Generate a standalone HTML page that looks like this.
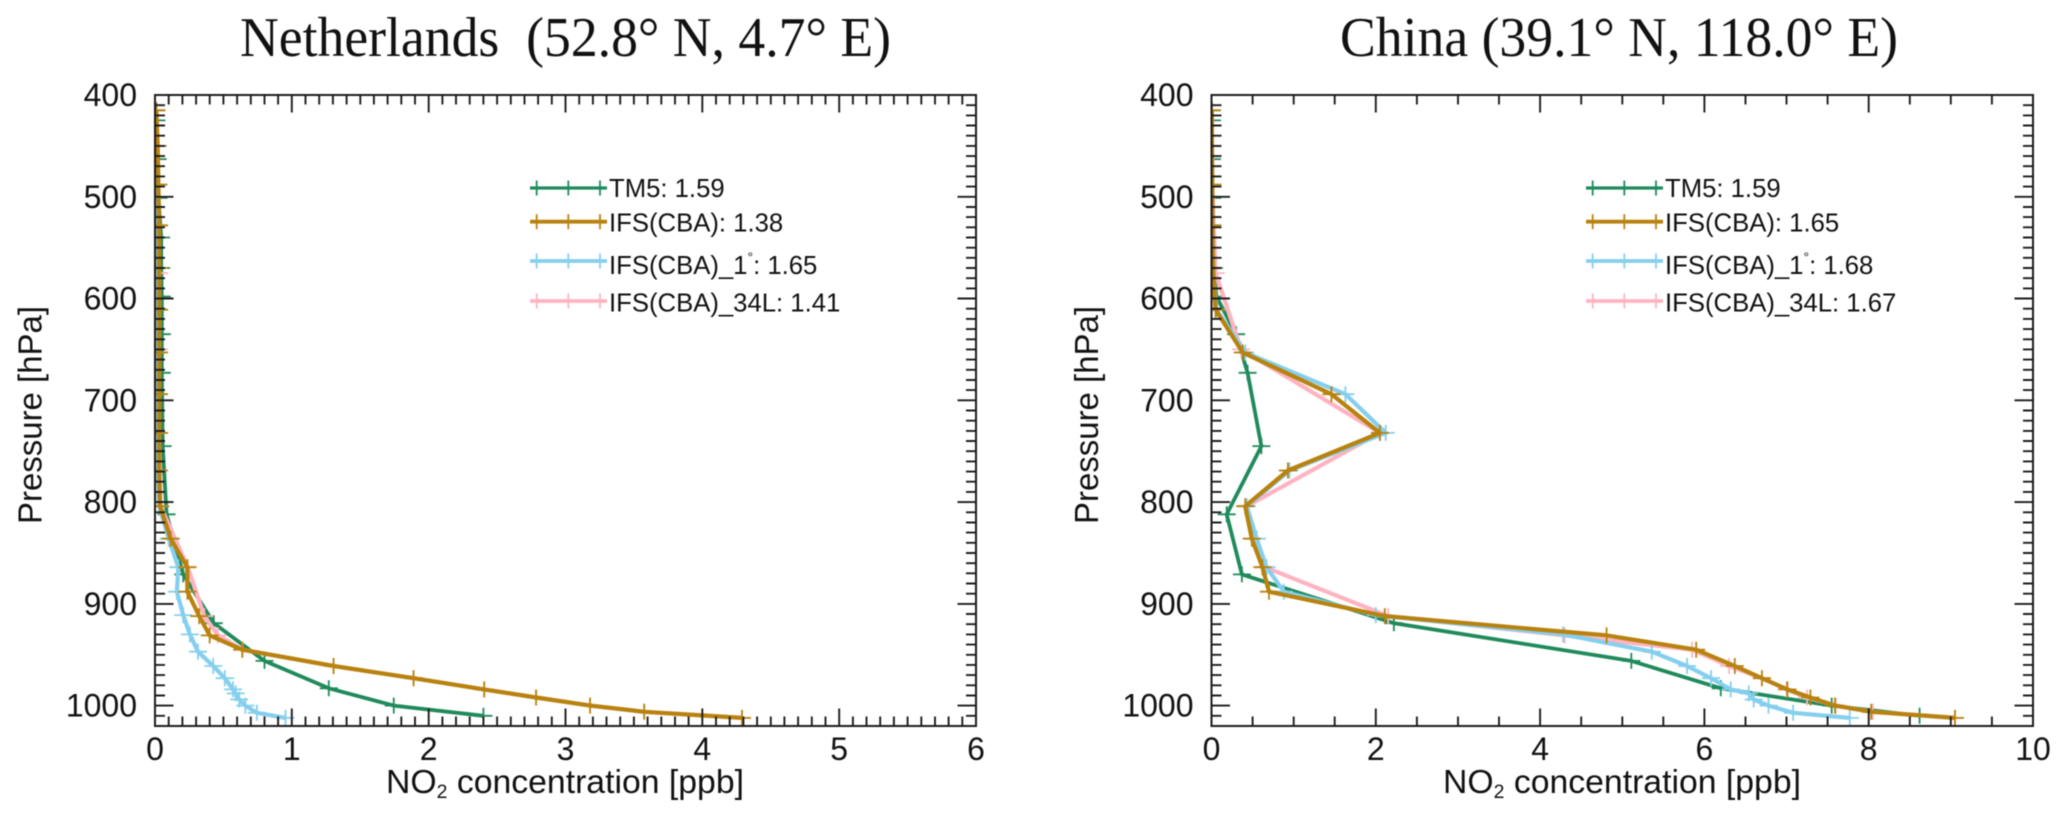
<!DOCTYPE html>
<html>
<head>
<meta charset="utf-8">
<title>NO2 profiles</title>
<style>
html,body{margin:0;padding:0;background:#fff;}
svg{display:block;filter:blur(0.4px);}
text{font-family:"Liberation Sans",sans-serif;fill:#111;white-space:pre;}
.title{font-family:"Liberation Serif",serif;font-size:56px;fill:#111;}
</style>
</head>
<body>
<svg id="figure" xmlns="http://www.w3.org/2000/svg" width="2067" height="820" viewBox="0 0 2067 820"></svg>
<script>
// ---------- shared data ----------
const pressureTicks = [400, 500, 600, 700, 800, 900, 1000];
const seriesNames = ['TM5', 'IFS(CBA)', 'IFS(CBA)_1', 'IFS(CBA)_34L'];

// pressure levels [hPa]
const tm5Levels = [425, 463, 501, 540, 570, 598, 635, 673, 745, 812, 871, 919, 956, 983, 1000, 1010];
const ifsLevels = [415, 450, 488, 528, 570, 611, 653, 694, 732, 769, 804, 836, 864, 888, 912, 931, 945, 961, 973, 984, 992, 1000, 1006, 1012];
const ifs1Levels = [415, 450, 488, 528, 570, 611, 653, 694, 732, 769, 804, 836, 864, 888, 911, 930, 947, 961, 973, 984, 988, 994, 1000, 1007, 1012];
const ifs34Levels = [415, 488, 575, 650, 732, 804, 864, 912, 931, 945, 961, 973, 984, 992, 1000, 1006, 1012];

// Netherlands NO2 [ppb]
const nlTicksX = [0, 1, 2, 3, 4, 5, 6];
const nlTM5 = [0.01, 0.02, 0.025, 0.045, 0.045, 0.05, 0.05, 0.05, 0.056, 0.085, 0.206, 0.43, 0.80, 1.27, 1.745, 2.40];
const nlIFS = [0.01, 0.02, 0.025, 0.03, 0.03, 0.03, 0.03, 0.03, 0.03, 0.03, 0.037, 0.115, 0.236, 0.237, 0.323, 0.40, 0.637, 1.305, 1.89, 2.406, 2.785, 3.18, 3.575, 4.29];
const nlIFS1 = [0.01, 0.015, 0.02, 0.02, 0.02, 0.02, 0.02, 0.02, 0.02, 0.02, 0.03, 0.10, 0.17, 0.16, 0.206, 0.255, 0.314, 0.425, 0.51, 0.57, 0.59, 0.615, 0.66, 0.745, 0.954];
const nlIFS34 = [0.01, 0.02, 0.03, 0.03, 0.03, 0.04, 0.24, 0.36, 0.46, 0.64, 1.305, 1.89, 2.406, 2.785, 3.18, 3.575, 4.29];
const nlScores = ['1.59', '1.38', '1.65', '1.41'];

// China NO2 [ppb]
const cnTicksX = [0, 2, 4, 6, 8, 10];
const cnTM5 = [0.005, 0.005, 0.01, 0.01, 0.03, 0.06, 0.30, 0.44, 0.607, 0.185, 0.37, 2.22, 5.11, 6.20, 7.55, 8.62];
const cnIFS = [0.005, 0.005, 0.01, 0.01, 0.02, 0.05, 0.38, 1.46, 2.05, 0.93, 0.41, 0.49, 0.62, 0.70, 2.11, 4.81, 5.90, 6.37, 6.70, 7.01, 7.29, 7.59, 8.03, 9.05];
const cnIFS1 = [0.005, 0.005, 0.01, 0.01, 0.02, 0.06, 0.41, 1.63, 2.12, 0.95, 0.43, 0.55, 0.67, 0.88, 2.00, 4.28, 5.36, 5.79, 6.08, 6.32, 6.54, 6.60, 6.78, 7.08, 7.77];
const cnIFS34 = [0.005, 0.01, 0.05, 0.36, 2.05, 0.43, 0.65, 2.15, 4.30, 5.85, 6.30, 6.70, 7.00, 7.25, 7.60, 8.05, 9.05];
const cnScores = ['1.59', '1.65', '1.68', '1.67'];

// ---------- drawing ----------
const svgNS = 'http://www.w3.org/2000/svg';
const fig = document.getElementById('figure');
const INK = '#1c1c1c';
const COLORS = ['#1f8a5b', '#b8820e', '#85cfee', '#ffb3c1'];
const WIDTHS = [3.8, 4.2, 4.2, 4.2];
const PTOP = 400, PBOT = 1020;

function mk(parent, tag, attrs, txt) {
  const el = document.createElementNS(svgNS, tag);
  for (const k in attrs) el.setAttribute(k, attrs[k]);
  if (txt !== undefined) el.textContent = txt;
  parent.appendChild(el);
  return el;
}

function group(parent, name) {
  const g = document.createElementNS(svgNS, 'g');
  
  
  parent.appendChild(g);
  return g;
}

function named(el, name) {
  
  
  return el;
}

function drawPanel(cfg) {
  const panel = group(fig, cfg.id + '-panel');
  const sx = v => cfg.left + (v - cfg.xMin) / (cfg.xMax - cfg.xMin) * (cfg.right - cfg.left);
  const sy = p => cfg.top + (p - PTOP) / (PBOT - PTOP) * (cfg.bottom - cfg.top);

  named(mk(panel, 'text', {class: 'title', x: cfg.titleX, y: 56, textLength: cfg.titleW, lengthAdjust: 'spacingAndGlyphs'}, cfg.title), cfg.id + '-title');

  // clip region so markers stop at the plot frame
  const clip = mk(panel, 'clipPath', {id: cfg.id + '-clip'});
  mk(clip, 'rect', {x: cfg.left, y: cfg.top, width: cfg.right - cfg.left, height: cfg.bottom - cfg.top});

  // series
  const seriesG = group(panel, cfg.id + '-series');
  seriesG.setAttribute('clip-path', 'url(#' + cfg.id + '-clip)');
  cfg.series.forEach((s, i) => {
    const g = group(seriesG, cfg.id + '-series-' + s.key);
    const pts = s.values.map((v, k) => sx(v).toFixed(1) + ',' + sy(s.levels[k]).toFixed(1)).join(' ');
    named(mk(g, 'polyline', {points: pts, fill: 'none', stroke: COLORS[s.color], 'stroke-width': WIDTHS[s.color], 'stroke-linejoin': 'round'}), cfg.id + '-line-' + s.key);
    s.values.forEach((v, k) => {
      const x = sx(v), y = sy(s.levels[k]);
      named(mk(g, 'path', {d: 'M' + (x - 9).toFixed(1) + ' ' + y.toFixed(1) + 'H' + (x + 9).toFixed(1) + 'M' + x.toFixed(1) + ' ' + (y - 8).toFixed(1) + 'V' + (y + 8).toFixed(1), stroke: COLORS[s.color], 'stroke-width': 1.8, fill: 'none'}), cfg.id + '-marker-' + s.key);
    });
  });

  // frame and ticks
  const axes = group(panel, cfg.id + '-axes');
  named(mk(axes, 'rect', {x: cfg.left, y: cfg.top, width: cfg.right - cfg.left, height: cfg.bottom - cfg.top, fill: 'none', stroke: INK, 'stroke-width': 2}), cfg.id + '-frame');

  let d = '';
  for (let p = PTOP + 10; p < PBOT; p += 10) {
    const len = p % 100 === 0 ? 18.5 : 10;
    const y = sy(p).toFixed(1);
    d += 'M' + cfg.left + ' ' + y + 'h' + len + 'M' + cfg.right + ' ' + y + 'h' + (-len);
  }
  named(mk(axes, 'path', {d: d, stroke: INK, 'stroke-width': 1.9, fill: 'none'}), cfg.id + '-y-ticks');

  const steps = Math.round((cfg.xMax - cfg.xMin) / cfg.xMinor);
  const majorEvery = Math.round(cfg.xMajor / cfg.xMinor);
  d = '';
  for (let k = 1; k < steps; k++) {
    const len = k % majorEvery === 0 ? 17.5 : 9.5;
    const x = sx(cfg.xMin + k * cfg.xMinor).toFixed(1);
    d += 'M' + x + ' ' + cfg.top + 'v' + len + 'M' + x + ' ' + cfg.bottom + 'v' + (-len);
  }
  named(mk(axes, 'path', {d: d, stroke: INK, 'stroke-width': 1.9, fill: 'none'}), cfg.id + '-x-ticks');

  // tick labels
  pressureTicks.forEach(p => {
    named(mk(axes, 'text', {x: cfg.left - 18, y: (sy(p) + 11).toFixed(1), 'text-anchor': 'end', 'font-size': 32}, String(p)), cfg.id + '-y-tick-label');
  });
  cfg.xTicks.forEach(v => {
    named(mk(axes, 'text', {x: sx(v).toFixed(1), y: 760, 'text-anchor': 'middle', 'font-size': 32}, String(v)), cfg.id + '-x-tick-label');
  });

  // axis titles
  const xt = named(mk(axes, 'text', {x: cfg.xTitleX, y: 793, 'font-size': 33, textLength: 358, lengthAdjust: 'spacingAndGlyphs'}), cfg.id + '-x-axis-title');
  mk(xt, 'tspan', {}, 'NO');
  mk(xt, 'tspan', {'font-size': 19, dy: 5}, '2');
  mk(xt, 'tspan', {dy: -5}, ' concentration [ppb]');
  named(mk(axes, 'text', {transform: 'translate(' + (cfg.left - 113.5) + ',524) rotate(-90)', x: 0, y: 0, 'font-size': 33, textLength: 218, lengthAdjust: 'spacingAndGlyphs'}, 'Pressure [hPa]'), cfg.id + '-y-axis-title');

  // legend
  const legend = group(panel, cfg.id + '-legend');
  const lineY = [188, 221.7, 261, 301];
  const textY = [197, 231.5, 274, 311.5];
  const legendColors = [0, 1, 2, 3];
  seriesNames.forEach((name, i) => {
    const g = group(legend, cfg.id + '-legend-entry-' + i);
    const c = COLORS[legendColors[i]];
    const x0 = cfg.legendX;
    named(mk(g, 'line', {x1: x0, x2: x0 + 77, y1: lineY[i], y2: lineY[i], stroke: c, 'stroke-width': i === 0 ? 3.2 : 3.8}), cfg.id + '-legend-line');
    [6.7, 38.3, 70].forEach(o => {
      named(mk(g, 'line', {x1: x0 + o, x2: x0 + o, y1: lineY[i] - 7.5, y2: lineY[i] + 7.5, stroke: c, 'stroke-width': 1.8}), cfg.id + '-legend-marker');
    });
    const t = named(mk(g, 'text', {x: x0 + 79, y: textY[i], 'font-size': 25.7}), cfg.id + '-legend-label');
    if (i === 2) {
      mk(t, 'tspan', {}, name);
      mk(t, 'tspan', {'font-size': 14, dy: -12}, '°');
      mk(t, 'tspan', {dy: 12}, ': ' + cfg.scores[i]);
    } else {
      t.textContent = name + ': ' + cfg.scores[i];
    }
  });
}

drawPanel({
  id: 'netherlands', title: 'Netherlands  (52.8° N, 4.7° E)', titleX: 240, titleW: 651,
  left: 155, right: 976, top: 95, bottom: 726,
  xMin: 0, xMax: 6, xMinor: 0.1, xMajor: 1, xTicks: nlTicksX,
  xTitleX: 386, legendX: 530, scores: nlScores,
  series: [
    {key: 'tm5', color: 0, levels: tm5Levels, values: nlTM5},
    {key: 'ifs-34l', color: 3, levels: ifs34Levels, values: nlIFS34},
    {key: 'ifs-1deg', color: 2, levels: ifs1Levels, values: nlIFS1},
    {key: 'ifs-cba', color: 1, levels: ifsLevels, values: nlIFS}
  ]
});

drawPanel({
  id: 'china', title: 'China (39.1° N, 118.0° E)', titleX: 1340, titleW: 558,
  left: 1211.5, right: 2033, top: 95, bottom: 726,
  xMin: 0, xMax: 10, xMinor: 0.5, xMajor: 2, xTicks: cnTicksX,
  xTitleX: 1443, legendX: 1586, scores: cnScores,
  series: [
    {key: 'tm5', color: 0, levels: tm5Levels, values: cnTM5},
    {key: 'ifs-34l', color: 3, levels: ifs34Levels, values: cnIFS34},
    {key: 'ifs-1deg', color: 2, levels: ifs1Levels, values: cnIFS1},
    {key: 'ifs-cba', color: 1, levels: ifsLevels, values: cnIFS}
  ]
});
</script>
</body>
</html>
